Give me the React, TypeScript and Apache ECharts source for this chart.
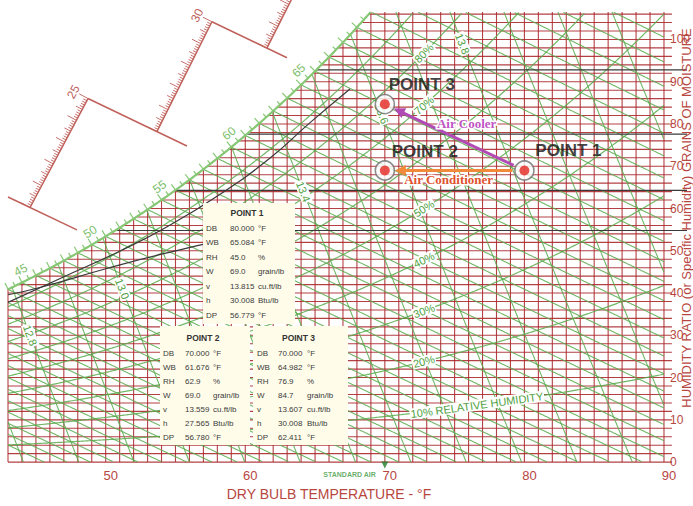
import React, { useEffect, useRef } from "react";
import * as echarts from "echarts";

// ---------------- data ----------------
const xTickValues = [50, 60, 70, 80, 90];
const yTickValues = [0, 10, 20, 30, 40, 50, 60, 70, 80, 90, 100];

const rhLevels = [10, 20, 30, 40, 50, 60, 70, 80, 90];
const rhLabelLevels = [10, 20, 30, 40, 50, 70, 80];
const rhLabelTemps = [76.6, 72.8, 72.8, 72.8, 72.8, 72.8, 72.8];
const rhLabelTexts = ["10% RELATIVE HUMIDITY", "20%", "30%", "40%", "50%", "70%", "80%"];

const volumeLevels = [12.6, 12.7, 12.8, 12.9, 13.0, 13.1, 13.2, 13.3, 13.4, 13.5, 13.6, 13.7, 13.8, 13.9, 14.0, 14.1];
const volumeLabelLevels = [12.8, 13.0, 13.4, 13.6, 13.8];
const volumeLabelW = [30, 41, 64, 82.5, 99];

const wetBulbLevels = [
  30, 31, 32, 33, 34, 35, 36, 37, 38, 39, 40, 41, 42, 43, 44, 45, 46, 47, 48, 49, 50, 51, 52, 53, 54, 55, 56, 57,
  58, 59, 60, 61, 62, 63, 64, 65, 66, 67, 68, 69, 70, 71, 72, 73, 74, 75, 76, 77, 78, 79, 80, 81, 82, 83, 84, 85,
];

const satLabelTemps = [45, 50, 55, 60, 65];

const enthalpyRulerFrom = [20, 25, 30];
const enthalpyRulerTo = [25, 30, 35];
const enthalpyRulerBaseT = [44.58, 53.67, 61.55];
const enthalpyRulerTopT = [48.73, 57.61, 65.5];
const enthalpyLineH = [20, 25, 30];
const enthalpyLineStartT = [43, 48.73, 57.61];
const enthalpyLineEndT = [47.94, 55.82, 62.99];

const dewPointLineW = [92.8, 77.6, 64.3, 54.8];
const blackCurve1T = [43, 46.7, 51.0, 54.4, 58.2, 61.8, 64.6, 67.5];
const blackCurve1W = [37.8, 43.4, 49.9, 55.7, 63.4, 72.0, 80.2, 88.3];
const blackCurve2T = [43, 45.5, 49.95, 54.39, 58.9, 63.2];
const blackCurve2W = [39.6, 41.5, 45.7, 49.5, 52.7, 54.3];

const pointNames = ["POINT 1", "POINT 2", "POINT 3"];
const pointDB = [80, 70, 70];
const pointW = [69.0, 69.0, 84.7];

const processFrom = [0, 0];
const processTo = [1, 2];
const processLabels = ["Air Conditioner", "Air Cooler"];

const rowLabels = ["DB", "WB", "RH", "W", "v", "h", "DP"];
const rowUnits = ["°F", "°F", "%", "grain/lb", "cu.ft/lb", "Btu/lb", "°F"];
const point1Values = ["80.000", "65.084", "45.0", "69.0", "13.815", "30.008", "56.779"];
const point2Values = ["70.000", "61.676", "62.9", "69.0", "13.559", "27.565", "56.780"];
const point3Values = ["70.000", "64.982", "76.9", "84.7", "13.607", "30.008", "62.411"];

const standardAirT = 70;

// ---------------- styling / layout ----------------
const TMIN = 43;
const TMAX = 90;
const WMAX = 106.5;
const SANS = "Liberation Sans, Arial, Helvetica, sans-serif";
const SERIF = "Liberation Serif, Times New Roman, serif";
const RED = "rgba(170,38,42,0.88)";
const RULER = "#c0605a";
const GREEN = "rgba(88,170,76,0.85)";
const GREEN_TEXT = "#4f9f42";
const AXIS_RED = "#b8473f";
const PROCESS_COLORS = ["#f28a3c", "#b24ab6"];
const PROCESS_TEXT = ["#e0522e", "#c055c4"];
const PROCESS_LABEL_OFFSET = [
  [-6, 9],
  [12, -14],
];
const POINT_LABEL_OFFSET = [
  [44, -20],
  [40, -19],
  [37, -20],
];

// ---------------- psychrometrics (IP units, sea level) ----------------
const P = 14.696;
function psat(tF: number) {
  const T = tF + 459.67;
  return Math.exp(
    -1.0440397e4 / T - 1.129465e1 - 2.7022355e-2 * T + 1.289036e-5 * T * T - 2.4780681e-9 * T * T * T +
      6.5459673 * Math.log(T)
  );
}
const wFromPw = (pw: number) => (7000 * 0.621945 * pw) / (P - pw);
const wsat = (t: number) => wFromPw(psat(t));
const wRH = (t: number, rh: number) => wFromPw((rh / 100) * psat(t));
function wWB(t: number, twb: number) {
  const ws = wsat(twb) / 7000;
  const w = ((1093 - 0.556 * twb) * ws - 0.24 * (t - twb)) / (1093 + 0.444 * t - twb);
  return w * 7000;
}
const tVol = (v: number, wGr: number) => (v * P) / (0.370486 * (1 + (1.607858 * wGr) / 7000)) - 459.67;
const wEnth = (h: number, t: number) => (7000 * (h - 0.24 * t)) / (1061 + 0.444 * t);
const enth = (t: number, wGr: number) => 0.24 * t + (wGr / 7000) * (1061 + 0.444 * t);
function tDew(wGr: number) {
  let lo = -20;
  let hi = 130;
  for (let i = 0; i < 60; i++) {
    const m = (lo + hi) / 2;
    if (wsat(m) < wGr) lo = m;
    else hi = m;
  }
  return (lo + hi) / 2;
}

const inside = (t: number, w: number) =>
  t >= TMIN - 1e-6 && t <= TMAX + 1e-6 && w >= -1e-6 && w <= WMAX + 1e-6 && w <= wsat(t) + 0.05;

function runs(samples: number[][]) {
  const out: number[][][] = [];
  let cur: number[][] = [];
  for (const p of samples) {
    if (inside(p[0], p[1])) cur.push(p);
    else {
      if (cur.length > 1) out.push(cur);
      cur = [];
    }
  }
  if (cur.length > 1) out.push(cur);
  return out;
}

function polys(api: any, samples: number[][], stroke: string, lw: number) {
  return runs(samples).map((r) => ({
    type: "polyline",
    shape: { points: r.map((p) => api.coord(p)) },
    style: { stroke, lineWidth: lw, fill: "none" },
  }));
}

function angleOf(a: number[], b: number[]) {
  return Math.atan2(b[1] - a[1], b[0] - a[0]);
}

// ---------------- series ----------------
function buildOption() {
  const gridT: number[] = [];
  for (let t = TMIN; t <= TMAX; t++) gridT.push(t);
  const gridW: number[] = [];
  for (let w = 0; w <= 106; w += 2) gridW.push(w);

  const vGrid = {
    type: "custom",
    z: 1,
    silent: true,
    data: gridT.map((t) => [t, 0]),
    renderItem: (_p: any, api: any) => {
      const t = api.value(0);
      const a = api.coord([t, 0]);
      const b = api.coord([t, Math.min(wsat(t), WMAX)]);
      return { type: "line", shape: { x1: a[0], y1: a[1], x2: b[0], y2: b[1] }, style: { stroke: RED, lineWidth: 1.1 } };
    },
  };
  const hGrid = {
    type: "custom",
    z: 1,
    silent: true,
    data: gridW.map((w) => [TMIN, w]),
    renderItem: (_p: any, api: any) => {
      const w = api.value(1);
      const a = api.coord([Math.max(TMIN, tDew(w)), w]);
      const b = api.coord([TMAX + 0.57, w]);
      return { type: "line", shape: { x1: a[0], y1: a[1], x2: b[0], y2: b[1] }, style: { stroke: RED, lineWidth: 1.1 } };
    },
  };

  const rhSeries = {
    type: "custom",
    z: 2,
    silent: true,
    data: rhLevels.map((r) => [r, 0]),
    renderItem: (_p: any, api: any) => {
      const rh = api.value(0);
      const s: number[][] = [];
      for (let t = TMIN; t <= TMAX + 1e-9; t += 0.1) s.push([t, wRH(t, rh)]);
      return { type: "group", children: polys(api, s, GREEN, 1.2) };
    },
  };

  const wbSeries = {
    type: "custom",
    z: 2,
    silent: true,
    data: wetBulbLevels.map((t) => [t, 0]),
    renderItem: (_p: any, api: any) => {
      const twb = api.value(0);
      const s: number[][] = [];
      for (let t = Math.max(twb, TMIN); t <= TMAX + 1e-9; t += 0.1) s.push([t, wWB(t, twb)]);
      return { type: "group", children: polys(api, s, GREEN, 1.1) };
    },
  };

  const volSeries = {
    type: "custom",
    z: 2,
    silent: true,
    data: volumeLevels.map((v) => [v, 0]),
    renderItem: (_p: any, api: any) => {
      const v = api.value(0);
      const s: number[][] = [];
      for (let w = 0; w <= WMAX + 1e-9; w += 0.25) s.push([tVol(v, w), w]);
      return { type: "group", children: polys(api, s, GREEN, 1.1) };
    },
  };

  const dewSeries = {
    type: "custom",
    z: 3,
    silent: true,
    data: dewPointLineW.map((w) => [TMIN, w]),
    renderItem: (_p: any, api: any) => {
      const w = api.value(1);
      const a = api.coord([Math.max(TMIN, tDew(w)), w]);
      const b = api.coord([TMAX + 1.65, w]);
      return { type: "line", shape: { x1: a[0], y1: a[1], x2: b[0], y2: b[1] }, style: { stroke: "#3a3a3a", lineWidth: 1.2 } };
    },
  };

  const blackCurveStyle = { color: "#3a3a3a", width: 1.2 };
  const blackCurve1 = {
    type: "line",
    z: 3,
    silent: true,
    smooth: true,
    showSymbol: false,
    symbol: "none",
    data: blackCurve1T.map((t, i) => [t, blackCurve1W[i]]),
    lineStyle: blackCurveStyle,
  };
  const blackCurve2 = {
    type: "line",
    z: 3,
    silent: true,
    smooth: true,
    showSymbol: false,
    symbol: "none",
    data: blackCurve2T.map((t, i) => [t, blackCurve2W[i]]),
    lineStyle: blackCurveStyle,
  };

  const labelSeries = {
    type: "custom",
    z: 6,
    silent: true,
    data: [[0, 0]],
    renderItem: (_p: any, api: any) => {
      const children: any[] = [];
      const tTop = tDew(WMAX);
      const sat: number[][] = [];
      for (let t = TMIN; t <= tTop; t += 0.1) sat.push(api.coord([t, wsat(t)]));
      sat.push(api.coord([tTop, WMAX]));
      children.push({ type: "polyline", shape: { points: sat }, style: { stroke: "#86c774", lineWidth: 2.2, fill: "none" } });
      for (let t = TMIN; t <= tTop; t += 0.5) {
        const a = api.coord([t - 0.05, wsat(t - 0.05)]);
        const b = api.coord([t + 0.05, wsat(t + 0.05)]);
        const ang = angleOf(a, b);
        const nx = Math.sin(ang);
        const ny = -Math.cos(ang);
        const c = api.coord([t, wsat(t)]);
        const len = Math.abs(t - Math.round(t)) < 0.01 ? 7 : 4.5;
        children.push({
          type: "line",
          shape: { x1: c[0], y1: c[1], x2: c[0] + nx * len, y2: c[1] + ny * len },
          style: { stroke: "#86c774", lineWidth: 1.2 },
        });
      }
      satLabelTemps.forEach((t) => {
        const a = api.coord([t - 0.2, wsat(t - 0.2)]);
        const b = api.coord([t + 0.2, wsat(t + 0.2)]);
        const ang = angleOf(a, b);
        const tx = Math.cos(ang);
        const ty = Math.sin(ang);
        const nx = ty;
        const ny = -tx;
        const c = api.coord([t, wsat(t)]);
        children.push({
          type: "text",
          x: c[0] + nx * 12 - tx * 11,
          y: c[1] + ny * 12 - ty * 11,
          rotation: -ang,
          style: { text: String(t), fill: "#7cc06a", fontSize: 12, fontFamily: SANS, align: "center", verticalAlign: "middle" },
        });
      });
      rhLabelLevels.forEach((rh, i) => {
        const t = rhLabelTemps[i];
        const a = api.coord([t - 0.4, wRH(t - 0.4, rh)]);
        const b = api.coord([t + 0.4, wRH(t + 0.4, rh)]);
        const c = api.coord([t, wRH(t, rh)]);
        children.push({
          type: "text",
          x: c[0],
          y: c[1],
          rotation: -angleOf(a, b),
          style: {
            text: rhLabelTexts[i],
            fill: GREEN_TEXT,
            fontSize: 11,
            fontFamily: SANS,
            align: "center",
            verticalAlign: "middle",
            backgroundColor: "#ffffff",
            padding: [0, 1],
          },
        });
      });
      volumeLabelLevels.forEach((v, i) => {
        const w = volumeLabelW[i];
        const a = api.coord([tVol(v, w + 1), w + 1]);
        const b = api.coord([tVol(v, w - 1), w - 1]);
        const c = api.coord([tVol(v, w), w]);
        children.push({
          type: "text",
          x: c[0],
          y: c[1],
          rotation: -angleOf(a, b),
          style: {
            text: v.toFixed(1),
            fill: GREEN_TEXT,
            fontSize: 11,
            fontFamily: SANS,
            align: "center",
            verticalAlign: "middle",
            backgroundColor: "#ffffff",
            padding: [0, 1],
          },
        });
      });
      return { type: "group", children };
    },
  };

  const enthalpySeries = {
    type: "custom",
    z: 4,
    silent: true,
    data: enthalpyRulerFrom.map((h, i) => [h, i]),
    renderItem: (_p: any, api: any) => {
      const i = api.value(1);
      const children: any[] = [];
      const hl = enthalpyLineH[i];
      const l0 = api.coord([enthalpyLineStartT[i], wEnth(hl, enthalpyLineStartT[i])]);
      const l1 = api.coord([enthalpyLineEndT[i], wEnth(hl, enthalpyLineEndT[i])]);
      children.push({ type: "line", shape: { x1: l0[0], y1: l0[1], x2: l1[0], y2: l1[1] }, style: { stroke: RULER, lineWidth: 1.5 } });
      const h0 = enthalpyRulerFrom[i];
      const h1 = enthalpyRulerTo[i];
      const A = [enthalpyRulerBaseT[i], wEnth(h0, enthalpyRulerBaseT[i])];
      const B = [enthalpyRulerTopT[i], wEnth(h1, enthalpyRulerTopT[i])];
      const a = api.coord(A);
      const b = api.coord(B);
      children.push({ type: "line", shape: { x1: a[0], y1: a[1], x2: b[0], y2: b[1] }, style: { stroke: RULER, lineWidth: 1.5 } });
      const ang = angleOf(a, b);
      const ux = Math.cos(ang);
      const uy = Math.sin(ang);
      const nx = uy;
      const ny = -ux;
      for (let k = 0; k <= 50; k++) {
        const h = h0 + k * 0.1;
        let lo = 0;
        let hi = 1;
        for (let it = 0; it < 40; it++) {
          const m = (lo + hi) / 2;
          const hm = enth(A[0] + (B[0] - A[0]) * m, A[1] + (B[1] - A[1]) * m);
          if (hm < h) lo = m;
          else hi = m;
        }
        const s = (lo + hi) / 2;
        const px = a[0] + (b[0] - a[0]) * s;
        const py = a[1] + (b[1] - a[1]) * s;
        const len = k % 10 === 0 ? 10 : k % 5 === 0 ? 7 : 4;
        children.push({
          type: "line",
          shape: { x1: px, y1: py, x2: px + nx * len, y2: py + ny * len },
          style: { stroke: RULER, lineWidth: 0.9 },
        });
      }
      const lx = b[0] + nx * 16 - ux * 1;
      const ly = b[1] + ny * 16 - uy * 1;
      if (ly > 8) {
        children.push({
          type: "text",
          x: lx,
          y: ly,
          rotation: -ang,
          style: { text: String(h1), fill: RULER, fontSize: 12, fontFamily: SANS, align: "center", verticalAlign: "middle" },
        });
      }
      return { type: "group", children };
    },
  };

  const processSeries = {
    type: "custom",
    z: 20,
    silent: true,
    data: processFrom.map((f, i) => [f, processTo[i]]),
    renderItem: (params: any, api: any) => {
      const i = params.dataIndex;
      const a = api.coord([pointDB[processFrom[i]], pointW[processFrom[i]]]);
      const b = api.coord([pointDB[processTo[i]], pointW[processTo[i]]]);
      const L = Math.hypot(b[0] - a[0], b[1] - a[1]);
      const ux = (b[0] - a[0]) / L;
      const uy = (b[1] - a[1]) / L;
      const s = [a[0] + ux * 12, a[1] + uy * 12];
      const tip = [b[0] - ux * 10, b[1] - uy * 10];
      const base = [tip[0] - ux * 11, tip[1] - uy * 11];
      const p1 = [base[0] - uy * 5.5, base[1] + ux * 5.5];
      const p2 = [base[0] + uy * 5.5, base[1] - ux * 5.5];
      const mid = [(a[0] + b[0]) / 2, (a[1] + b[1]) / 2];
      const col = PROCESS_COLORS[i];
      return {
        type: "group",
        children: [
          { type: "line", shape: { x1: s[0], y1: s[1], x2: base[0] + ux * 2, y2: base[1] + uy * 2 }, style: { stroke: col, lineWidth: 3 } },
          { type: "polygon", shape: { points: [tip, p1, p2] }, style: { fill: col } },
          {
            type: "text",
            x: mid[0] + PROCESS_LABEL_OFFSET[i][0],
            y: mid[1] + PROCESS_LABEL_OFFSET[i][1],
            style: {
              text: processLabels[i],
              fill: PROCESS_TEXT[i],
              fontSize: 13,
              fontWeight: "bold",
              fontFamily: SERIF,
              align: "center",
              verticalAlign: "middle",
              stroke: "#ffffff",
              lineWidth: 3,
            },
          },
        ],
      };
    },
  };

  const pointsOuter = {
    type: "scatter",
    z: 21,
    silent: true,
    symbol: "circle",
    symbolSize: 19,
    itemStyle: { color: "#ffffff", borderColor: "#6f6f6f", borderWidth: 1.6 },
    data: pointDB.map((t, i) => ({
      value: [t, pointW[i]],
      label: {
        show: true,
        position: "inside",
        offset: POINT_LABEL_OFFSET[i],
        formatter: pointNames[i],
        color: "#111",
        fontSize: 17,
        fontWeight: "bold",
        fontFamily: SANS,
      },
    })),
  };
  const pointsInner = {
    type: "scatter",
    z: 22,
    silent: true,
    symbol: "circle",
    symbolSize: 10,
    itemStyle: { color: "#e3261f" },
    data: pointDB.map((t, i) => [t, pointW[i]]),
  };
  const standardAir = {
    type: "scatter",
    z: 22,
    silent: true,
    symbol: "triangle",
    symbolSize: 7,
    symbolRotate: 180,
    symbolOffset: [0, 3],
    itemStyle: { color: "#237a2c" },
    data: [[standardAirT, 0]],
    label: {
      show: true,
      position: [-58, 9],
      formatter: "STANDARD AIR",
      color: "#3f9a3f",
      fontSize: 7,
      fontWeight: "bold",
      fontFamily: SANS,
    },
  };

  // ---------- info boxes (graphic) ----------
  const graphic: any[] = [];
  const boxes = [
    { x: 203, y: 203, w: 92, h: 121, values: point1Values, name: pointNames[0], cols: [206, 230, 258], rowY: 228, dy: 14.5 },
    { x: 160, y: 326, w: 90, h: 119, values: point2Values, name: pointNames[1], cols: [163, 185, 213], rowY: 353, dy: 14 },
    { x: 253, y: 326, w: 95, h: 119, values: point3Values, name: pointNames[2], cols: [257, 278, 307], rowY: 353, dy: 14 },
  ];
  boxes.forEach((b) => {
    graphic.push({ type: "rect", z: 100, shape: { x: b.x, y: b.y, width: b.w, height: b.h }, style: { fill: "#fffdea" } });
    graphic.push({
      type: "text",
      z: 101,
      x: b.x + b.w / 2 - 2,
      y: b.rowY - 15,
      style: { text: b.name, fill: "#333", fontSize: 8.5, fontWeight: "bold", fontFamily: SANS, align: "center", verticalAlign: "middle" },
    });
    rowLabels.forEach((lab, r) => {
      const y = b.rowY + r * b.dy;
      const st = { fill: "#3a3a3a", fontSize: 8, fontFamily: SANS, verticalAlign: "middle", align: "left" };
      graphic.push({ type: "text", z: 101, x: b.cols[0], y, style: { ...st, text: lab } });
      graphic.push({ type: "text", z: 101, x: b.cols[1], y, style: { ...st, text: b.values[r] } });
      graphic.push({ type: "text", z: 101, x: b.cols[2], y, style: { ...st, text: rowUnits[r] } });
    });
  });
  graphic.push({
    type: "text",
    z: 101,
    x: 686,
    y: 218,
    rotation: Math.PI / 2,
    style: {
      text: "HUMIDITY RATIO (or Specific Humidity) GRAINS OF MOISTURE",
      fill: AXIS_RED,
      fontSize: 13,
      fontFamily: SANS,
      align: "center",
      verticalAlign: "middle",
    },
  });

  return {
    animation: false,
    backgroundColor: "#ffffff",
    grid: { left: 8, right: 29, top: 12, bottom: 37 },
    xAxis: {
      type: "value",
      min: TMIN,
      max: TMAX,
      axisLine: { show: false },
      axisTick: { show: false },
      splitLine: { show: false },
      axisLabel: {
        customValues: xTickValues,
        color: AXIS_RED,
        fontSize: 13,
        fontFamily: SANS,
        margin: 7,
        padding: [0, 0, 0, 10],
      },
      name: "DRY BULB TEMPERATURE - °F",
      nameLocation: "middle",
      nameGap: 19,
      nameTextStyle: { color: AXIS_RED, fontSize: 14, fontFamily: SANS, padding: [0, 14, 0, 0] },
    },
    yAxis: {
      type: "value",
      position: "right",
      min: 0,
      max: WMAX,
      axisLine: { show: false },
      axisTick: { show: false },
      splitLine: { show: false },
      axisLabel: { customValues: yTickValues, color: AXIS_RED, fontSize: 12, fontFamily: SANS, margin: 6 },
    },
    series: [
      vGrid,
      hGrid,
      wbSeries,
      volSeries,
      rhSeries,
      dewSeries,
      blackCurve1,
      blackCurve2,
      enthalpySeries,
      labelSeries,
      processSeries,
      pointsOuter,
      pointsInner,
      standardAir,
    ],
    graphic,
  };
}

export default function App() {
  const ref = useRef<HTMLDivElement>(null);
  useEffect(() => {
    const chart = echarts.init(ref.current as HTMLDivElement, null, { renderer: "svg" });
    chart.setOption(buildOption() as any);
    return () => chart.dispose();
  }, []);
  return <div ref={ref} style={{ position: "absolute", left: 0, top: 0, width: 693, height: 506, background: "#fff" }} />;
}
